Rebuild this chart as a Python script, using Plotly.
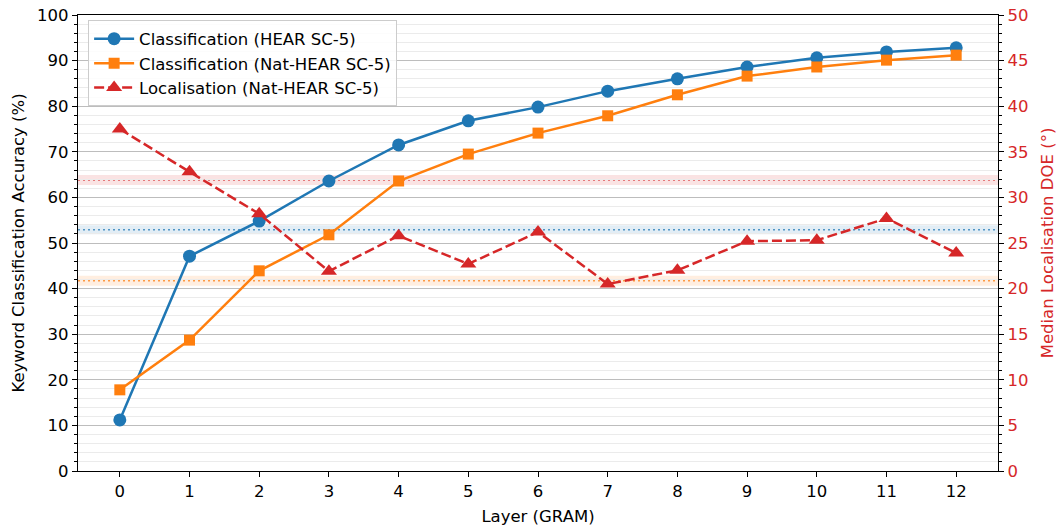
import plotly.graph_objects as go

layers = list(range(13))
hear_acc = [11.2, 47.1, 54.8, 63.6, 71.5, 76.8, 79.8, 83.3, 86.0, 88.6, 90.6, 91.9, 92.8]
nat_acc = [17.8, 28.7, 43.9, 51.8, 63.6, 69.5, 74.1, 77.9, 82.5, 86.6, 88.6, 90.1, 91.2]
nat_doe = [37.5, 32.8, 28.2, 21.9, 25.8, 22.7, 26.2, 20.5, 22.0, 25.2, 25.3, 27.7, 23.9]

# baselines: (centre, low, high)
base_hear = (52.9, 51.9, 53.9)   # left axis
base_nat = (41.7, 40.6, 42.8)    # left axis
base_doe = (31.9, 31.35, 32.45)  # right axis

BLUE = "#1f77b4"
ORANGE = "#ff7f0e"
RED = "#d62728"
FONT = "DejaVu Sans"
FS = 16.5

fig = go.Figure()
fig.add_trace(go.Scatter(x=layers, y=hear_acc, name="Classification (HEAR SC-5)",
                         mode="lines+markers", line=dict(color=BLUE, width=2.5),
                         marker=dict(symbol="circle", size=13, color=BLUE)))
fig.add_trace(go.Scatter(x=layers, y=nat_acc, name="Classification (Nat-HEAR SC-5)",
                         mode="lines+markers", line=dict(color=ORANGE, width=2.5),
                         marker=dict(symbol="square", size=11, color=ORANGE)))
fig.add_trace(go.Scatter(x=layers, y=nat_doe, name="Localisation (Nat-HEAR SC-5)",
                         mode="lines+markers", yaxis="y2",
                         line=dict(color=RED, width=2.5, dash="10px,4px"),
                         marker=dict(symbol="triangle-up", size=14, color=RED)))

shapes = []
for (c, lo, hi), col, yref in [(base_doe, "214,39,40", "y2"),
                               (base_hear, "31,119,180", "y"),
                               (base_nat, "255,127,14", "y")]:
    shapes.append(dict(type="rect", xref="paper", x0=0, x1=1, yref=yref, y0=lo, y1=hi,
                       fillcolor=f"rgba({col},0.13)", line=dict(width=0), layer="below"))
    shapes.append(dict(type="line", xref="paper", x0=0, x1=1, yref=yref, y0=c, y1=c,
                       line=dict(color=f"rgba({col},0.75)", width=1.5, dash="2px,3px"),
                       layer="below"))

fig.update_layout(
    width=1062, height=527,
    margin=dict(l=78, r=64, t=15, b=56, autoexpand=False),
    paper_bgcolor="white", plot_bgcolor="white",
    font=dict(family=FONT, size=FS, color="black"),
    shapes=shapes,
    showlegend=True,
    legend=dict(x=0.011, y=0.988, xanchor="left", yanchor="top",
                bgcolor="rgba(255,255,255,0.85)", bordercolor="#cccccc", borderwidth=1,
                font=dict(family=FONT, size=FS), itemwidth=40, tracegroupgap=0),
    xaxis=dict(range=[-0.6, 12.6], tickmode="array", tickvals=layers,
               ticktext=[str(v) for v in layers], ticks="outside", ticklen=5,
               tickcolor="black", showline=True, linecolor="black", linewidth=1.2,
               mirror=True, showgrid=False, zeroline=False, automargin=False,
               title=dict(text="Layer (GRAM)", font=dict(size=FS), standoff=10)),
    yaxis=dict(range=[0, 100], dtick=10, ticks="outside", ticklen=5, tickcolor="black",
               showline=True, linecolor="black", linewidth=1.2, automargin=False,
               showgrid=True, gridcolor="#bdbdbd", gridwidth=1.3, zeroline=False,
               minor=dict(dtick=2, ticks="outside", ticklen=3, tickcolor="black",
                          showgrid=True, gridcolor="#ebebeb", gridwidth=1),
               title=dict(text="Keyword Classification Accuracy (%)", font=dict(size=FS),
                          standoff=8)),
    yaxis2=dict(range=[0, 50], dtick=5, overlaying="y", side="right",
                ticks="outside", ticklen=5, tickcolor="black", automargin=False,
                showline=True, linecolor="black", linewidth=1.2,
                showgrid=False, zeroline=False,
                tickfont=dict(color=RED, size=FS),
                minor=dict(dtick=1, ticks="outside", ticklen=3, tickcolor="black", showgrid=False),
                title=dict(text="Median Localisation DOE (°)", font=dict(color=RED, size=FS),
                           standoff=14)),
)

fig.write_html("out.html")
